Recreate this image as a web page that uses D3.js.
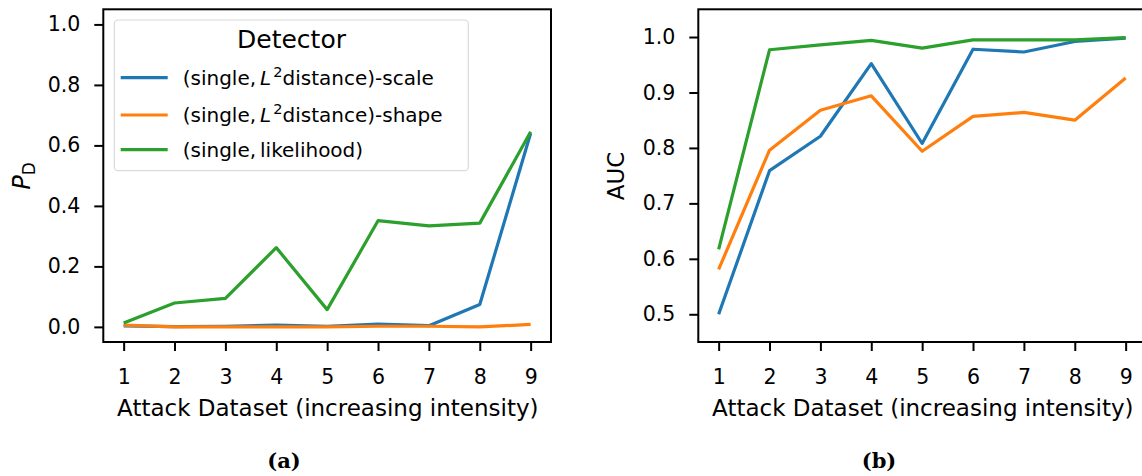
<!DOCTYPE html>
<html>
<head>
<meta charset="utf-8">
<script src="https://cdn.jsdelivr.net/npm/d3@7"></script>
<style>
  body { margin: 0; background: #fff; }
  text { font-family: "DejaVu Sans", sans-serif; fill: #000; }
</style>
</head>
<body>
<div id="chart"></div>
<script>
// data
const datasets = [1, 2, 3, 4, 5, 6, 7, 8, 9];
const seriesNames = ["scale", "shape", "likelihood"];
const colors = ["#1f77b4", "#ff7f0e", "#2ca02c"];

const pdScale = [0.003, 0.001, 0.002, 0.006, 0.002, 0.009, 0.004, 0.074, 0.640];
const pdShape = [0.006, 0.000, 0.000, 0.000, 0.000, 0.002, 0.002, 0.000, 0.008];
const pdLikelihood = [0.013, 0.079, 0.094, 0.262, 0.057, 0.351, 0.334, 0.343, 0.645];

const aucScale = [0.500, 0.759, 0.821, 0.952, 0.808, 0.978, 0.973, 0.992, 0.998];
const aucShape = [0.581, 0.796, 0.868, 0.894, 0.794, 0.857, 0.864, 0.850, 0.926];
const aucLikelihood = [0.617, 0.977, 0.986, 0.994, 0.980, 0.995, 0.995, 0.995, 0.999];

const pdTicks = [0.0, 0.2, 0.4, 0.6, 0.8, 1.0];
const aucTicks = [0.5, 0.6, 0.7, 0.8, 0.9, 1.0];

const W = 1142, H = 476;
const svg = d3.select("#chart").append("svg")
    .attr("width", W).attr("height", H);

function panel(opts) {
    const x = d3.scaleLinear().domain([0.6, 9.4]).range([opts.left, opts.left + 447.7]);
    const y = d3.scaleLinear().domain(opts.yDomain).range([342, 9.3]);

    const g = svg.append("g");

    // lines
    const line = d3.line().x((d, i) => x(datasets[i])).y(d => y(d));
    opts.series.forEach((s, i) => {
        g.append("path")
            .datum(s)
            .attr("d", line)
            .attr("fill", "none")
            .attr("stroke", colors[i])
            .attr("stroke-width", 3.2)
            .attr("stroke-linejoin", "round");
    });

    // axes
    const xa = g.append("g")
        .attr("transform", `translate(0, 342)`)
        .call(d3.axisBottom(x).tickValues(datasets).tickSize(9).tickPadding(18));
    const ya = g.append("g")
        .attr("transform", `translate(${opts.left}, 0)`)
        .call(d3.axisLeft(y).tickValues(opts.yTicks).tickFormat(d3.format(".1f")).tickSize(9).tickPadding(14));
    [xa, ya].forEach(a => {
        a.select(".domain").remove();
        a.selectAll(".tick line").attr("stroke", "#000").attr("stroke-width", 2);
        a.selectAll(".tick text")
            .style("font-family", '"DejaVu Sans", sans-serif')
            .style("font-size", "20.5px");
    });

    // frame
    g.append("rect")
        .attr("x", opts.left).attr("y", 9.3)
        .attr("width", 447.7).attr("height", 342 - 9.3)
        .attr("fill", "none").attr("stroke", "#000").attr("stroke-width", 2);

    // x label
    g.append("text")
        .attr("x", opts.left + 224.5)
        .attr("y", 416)
        .attr("text-anchor", "middle")
        .style("font-size", "23px")
        .text("Attack Dataset (increasing intensity)");

    // caption
    g.append("text")
        .attr("x", opts.captionX)
        .attr("y", 468)
        .attr("text-anchor", "middle")
        .style("font-family", '"DejaVu Serif", serif')
        .style("font-weight", "bold")
        .style("font-size", "21px")
        .text(opts.caption);

    return { g, x, y };
}

const left = panel({
    left: 103.3, yDomain: [-0.05, 1.05], yTicks: pdTicks,
    series: [pdScale, pdShape, pdLikelihood],
    caption: "(a)", captionX: 284
});

const right = panel({
    left: 698.3, yDomain: [0.45, 1.05], yTicks: aucTicks,
    series: [aucScale, aucShape, aucLikelihood],
    caption: "(b)", captionX: 879
});

// y labels
const pd = svg.append("text")
    .attr("transform", "translate(30, 176) rotate(-90)")
    .attr("text-anchor", "middle")
    .style("font-size", "24px");
pd.append("tspan").style("font-style", "italic").text("P");
pd.append("tspan").attr("dy", 5).style("font-size", "17px").text("D");

svg.append("text")
    .attr("transform", "translate(624, 176) rotate(-90)")
    .attr("text-anchor", "middle")
    .style("font-size", "23px")
    .text("AUC");

// legend
const lg = svg.append("g");
lg.append("rect")
    .attr("x", 114.3).attr("y", 20)
    .attr("width", 354).attr("height", 150.7)
    .attr("rx", 4)
    .attr("fill", "#fff").attr("fill-opacity", 0.8)
    .attr("stroke", "#d9d9d9").attr("stroke-width", 1.2);
lg.append("text")
    .attr("x", 291.5).attr("y", 48)
    .attr("text-anchor", "middle")
    .style("font-size", "25px")
    .text("Detector");

const legendY = [77.7, 115, 149.7];
const legendLabels = [
    ["(single,\u2009", "L", "2", "distance)-scale"],
    ["(single,\u2009", "L", "2", "distance)-shape"],
    ["(single,\u2009likelihood)"]
];
legendLabels.forEach((lab, i) => {
    lg.append("line")
        .attr("x1", 120.7).attr("x2", 167.7)
        .attr("y1", legendY[i]).attr("y2", legendY[i])
        .attr("stroke", colors[i]).attr("stroke-width", 3.2);
    const t = lg.append("text")
        .attr("x", 182.7).attr("y", legendY[i] + 7)
        .style("font-size", "20px");
    t.append("tspan").text(lab[0]);
    if (lab.length > 1) {
        t.append("tspan").style("font-style", "italic").text(lab[1]);
        t.append("tspan").attr("dx", 2).attr("dy", -8).style("font-size", "14.5px").text(lab[2]);
        t.append("tspan").attr("dy", 8).text(lab[3]);
    }
});
</script>
</body>
</html>
